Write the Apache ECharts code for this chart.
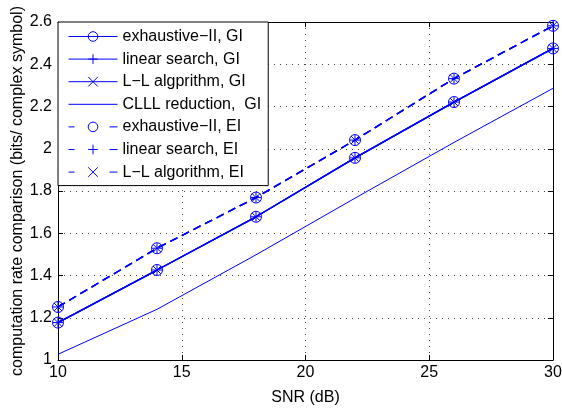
<!DOCTYPE html>
<html>
<head>
<meta charset="utf-8">
<script src="https://cdn.jsdelivr.net/npm/echarts@6/dist/echarts.min.js"></script>
<style>
html,body{margin:0;padding:0;background:#fff;}
#chart{width:562px;height:409px;}
</style>
</head>
<body>
<div id="chart"></div>
<script>
// ---- data ----
const snr = [10, 14, 18, 22, 26, 30];
const exhaustiveGI = [1.177, 1.426, 1.678, 1.957, 2.221, 2.475];
const linearGI     = [1.177, 1.426, 1.678, 1.957, 2.221, 2.475];
const llGI         = [1.177, 1.426, 1.678, 1.957, 2.221, 2.475];
const clllGI       = [1.027, 1.240, 1.498, 1.766, 2.030, 2.286];
const exhaustiveEI = [1.251, 1.529, 1.769, 2.041, 2.332, 2.582];
const linearEI     = [1.251, 1.529, 1.769, 2.041, 2.332, 2.582];
const llEI         = [1.251, 1.529, 1.769, 2.041, 2.332, 2.582];
const xTicks = [10, 15, 20, 25, 30];
const yTicks = [1, 1.2, 1.4, 1.6, 1.8, 2, 2.2, 2.4, 2.6];
const seriesNames = [
  'exhaustive\u2212II, GI',
  'linear search, GI',
  'L\u2212L algprithm, GI',
  'CLLL reduction,  GI',
  'exhaustive\u2212II, EI',
  'linear search, EI',
  'L\u2212L algorithm, EI'
];
const xName = 'SNR (dB)';
const yName = 'computation rate comparison (bits/ complex symbol)';

// ---- styling ----
const BLUE = '#0000ff';
const FONT = 'Liberation Sans, Arial, Helvetica, sans-serif';
const FS = 16;
const SYM_CIRCLE = 'path://M10,5A5,5 0 1,1 0,5A5,5 0 1,1 10,5Z';
const SYM_PLUS = 'path://M0,5L10,5M5,0L5,10';
const SYM_X = 'path://M0,0L10,10M0,10L10,0';
const DASH = [8, 5];

function pairs(vals) { return snr.map((x, i) => [x, vals[i]]); }

function mk(name, vals, symbol, symSize, dashed, width) {
  return {
    name: name,
    type: 'line',
    data: pairs(vals),
    symbol: symbol || 'circle',
    showSymbol: !!symbol,
    symbolSize: symSize || 0,
    lineStyle: { color: BLUE, width: width, type: dashed ? DASH : 'solid' },
    itemStyle: { color: 'transparent', borderColor: symbol ? BLUE : 'transparent', borderWidth: symbol ? 1 : 0 },
    emphasis: { disabled: true },
    silent: true,
    z: 3
  };
}

const series = [
  mk(seriesNames[0], exhaustiveGI, SYM_CIRCLE, 11, false, 1.4),
  mk(seriesNames[1], linearGI, SYM_PLUS, 10, false, 1.4),
  mk(seriesNames[2], llGI, SYM_X, 8, false, 1.4),
  mk(seriesNames[3], clllGI, null, 0, false, 1),
  mk(seriesNames[4], exhaustiveEI, SYM_CIRCLE, 11, true, 1.4),
  mk(seriesNames[5], linearEI, SYM_PLUS, 10, true, 1.4),
  mk(seriesNames[6], llEI, SYM_X, 8, true, 1.4)
];

const legendData = seriesNames.map((n, i) => ({
  name: n,
  lineStyle: { width: 1, type: i >= 4 ? [6, 35, 8] : 'solid' }
}));

const axisCommon = {
  axisLine: { show: true, onZero: false, lineStyle: { color: '#000', width: 1 } },
  axisTick: { show: true, inside: true, length: 5, lineStyle: { color: '#000' } },
};

const chart = echarts.init(document.getElementById('chart'), null, { renderer: 'canvas' });
chart.setOption({
  animation: false,
  backgroundColor: '#fff',
  textStyle: { fontFamily: FONT },
  grid: { left: 58, right: 9, top: 22, bottom: 49, containLabel: false, outerBoundsMode: 'none' },
  legend: {
    orient: 'vertical',
    left: 58,
    top: 22,
    data: legendData,
    backgroundColor: '#fff',
    borderColor: '#000',
    borderWidth: 1,
    padding: [6.5, 7, 5.5, 10],
    itemWidth: 49,
    itemHeight: 12,
    itemGap: 6.6,
    selectedMode: false,
    lineStyle: { width: 1 },
    itemStyle: { borderWidth: 1 },
    textStyle: { fontFamily: FONT, fontSize: FS, color: '#000' },
    z: 10
  },
  xAxis: [
    Object.assign({
      type: 'value',
      min: xTicks[0], max: xTicks[xTicks.length - 1], interval: xTicks[1] - xTicks[0],
      name: xName, nameLocation: 'middle', nameGap: 30, nameMoveOverlap: false,
      nameTextStyle: { fontFamily: FONT, fontSize: FS, color: '#000' },
      axisLabel: { color: '#000', fontSize: FS, fontFamily: FONT, margin: 5 },
      splitLine: { show: true, lineStyle: { color: '#444', width: 1, type: [1, 5] } }
    }, axisCommon),
    Object.assign({
      type: 'value', position: 'top',
      min: xTicks[0], max: xTicks[xTicks.length - 1], interval: xTicks[1] - xTicks[0],
      axisLabel: { show: false }, splitLine: { show: false }
    }, axisCommon)
  ],
  yAxis: [
    Object.assign({
      type: 'value',
      min: yTicks[0], max: yTicks[yTicks.length - 1], interval: 0.2,
      name: yName, nameLocation: 'middle', nameGap: 32, nameMoveOverlap: false,
      nameTextStyle: { fontFamily: FONT, fontSize: FS, color: '#000' },
      axisLabel: { color: '#000', fontSize: FS, fontFamily: FONT, margin: 6,
        formatter: v => String(Math.round(v * 10) / 10) },
      splitLine: { show: true, lineStyle: { color: '#444', width: 1, type: [1, 5] } }
    }, axisCommon),
    Object.assign({
      type: 'value', position: 'right',
      min: yTicks[0], max: yTicks[yTicks.length - 1], interval: 0.2,
      axisLabel: { show: false }, splitLine: { show: false }
    }, axisCommon)
  ],
  series: series
});
</script>
</body>
</html>
